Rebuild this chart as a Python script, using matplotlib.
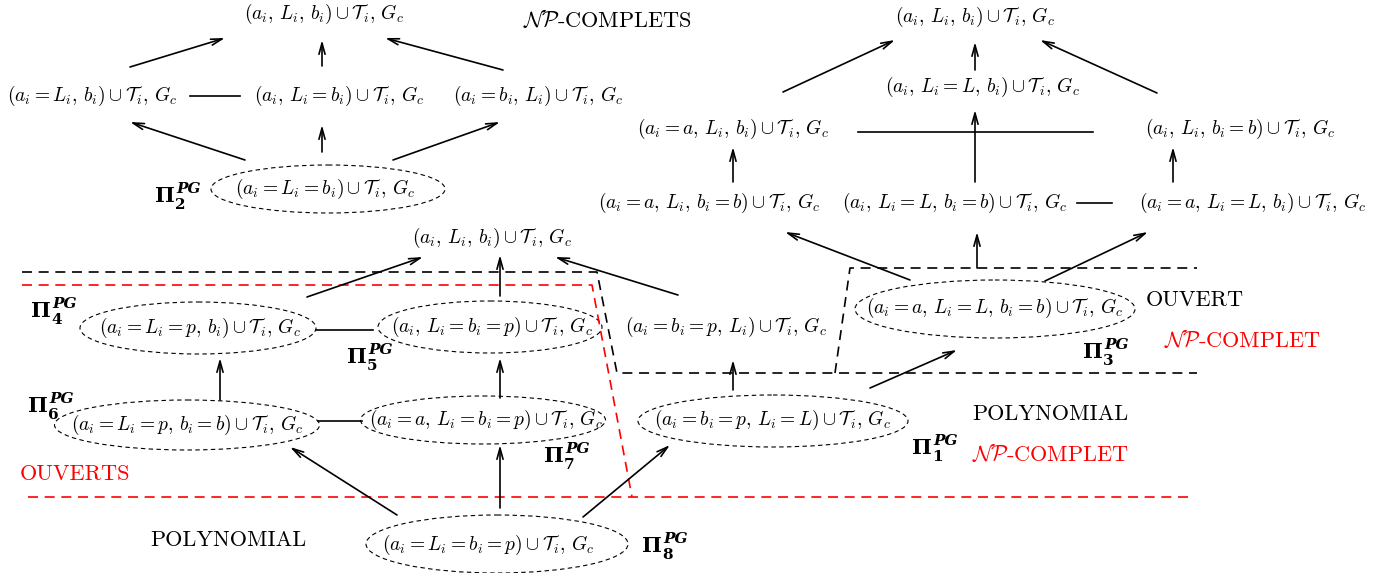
import matplotlib
matplotlib.use("Agg")
import matplotlib.pyplot as plt
from matplotlib.patches import Ellipse

plt.rcParams['mathtext.fontset'] = 'cm'
plt.rcParams['font.family'] = ['cmr10', 'DejaVu Serif']
plt.rcParams['axes.unicode_minus'] = False

T = r'\cup\mathcal{T}_i,\,G_c$'

# nodes of the lattice (label, centre in pixels)
node_labels = [
    r'$(a_i,\,L_i,\,b_i)' + T,
    r'$(a_i=L_i,\,b_i)' + T,
    r'$(a_i,\,L_i=b_i)' + T,
    r'$(a_i=b_i,\,L_i)' + T,
    r'$(a_i=L_i=b_i)' + T,
    r'$(a_i,\,L_i,\,b_i)' + T,
    r'$(a_i,\,L_i=L,\,b_i)' + T,
    r'$(a_i=a,\,L_i,\,b_i)' + T,
    r'$(a_i,\,L_i,\,b_i=b)' + T,
    r'$(a_i=a,\,L_i,\,b_i=b)' + T,
    r'$(a_i,\,L_i=L,\,b_i=b)' + T,
    r'$(a_i=a,\,L_i=L,\,b_i)' + T,
    r'$(a_i,\,L_i,\,b_i)' + T,
    r'$(a_i=L_i=p,\,b_i)' + T,
    r'$(a_i,\,L_i=b_i=p)' + T,
    r'$(a_i=b_i=p,\,L_i)' + T,
    r'$(a_i=a,\,L_i=L,\,b_i=b)' + T,
    r'$(a_i=L_i=p,\,b_i=b)' + T,
    r'$(a_i=a,\,L_i=b_i=p)' + T,
    r'$(a_i=b_i=p,\,L_i=L)' + T,
    r'$(a_i=L_i=b_i=p)' + T,
]
node_x = [324, 92, 339, 538, 325, 975, 983, 733, 1240, 709, 955, 1253,
          492, 200, 492, 726, 995, 187, 486, 773, 488]
node_y = [14, 96, 96, 96, 189, 17, 87, 129, 129, 203, 203, 203,
          238, 328, 327, 327, 308, 425, 420, 420, 545]

# dashed ellipses round the named problems: (cx, cy, w, h)
ellipses = [
    (328, 189, 234, 48),
    (198, 328, 236, 52),
    (490, 327, 224, 52),
    (995, 309, 280, 58),
    (187, 425, 265, 50),
    (483, 420, 245, 48),
    (773, 421, 270, 52),
    (497, 544, 262, 58),
]

# problem names: index and position of the Pi glyph (left, centre)
pi_index = ['2', '4', '5', '3', '6', '7', '1', '8']
pi_x = [155, 31, 347, 1083, 28, 544, 912, 642]
pi_y = [196, 311, 357, 352, 406, 456, 448, 546]

# arrows (start -> end)
arrows = [
    ((130, 67), (225, 38)), ((322, 66), (322, 40)), ((503, 70), (385, 38)),
    ((245, 160), (130, 122)), ((322, 152), (322, 125)), ((393, 160), (500, 122)),
    ((783, 92), (895, 40)), ((975, 70), (975, 42)), ((1157, 93), (1040, 40)),
    ((733, 182), (733, 147)), ((975, 182), (975, 110)), ((1173, 182), (1173, 147)),
    ((307, 297), (423, 257)), ((500, 296), (500, 255)), ((678, 295), (555, 257)),
    ((910, 280), (785, 232)), ((977, 268), (977, 232)), ((1045, 281), (1148, 232)),
    ((220, 400), (220, 358)), ((500, 398), (500, 358)),
    ((733, 390), (733, 360)), ((870, 388), (957, 350)),
    ((397, 515), (290, 447)), ((500, 508), (500, 445)), ((583, 517), (670, 445)),
]

# plain links between nodes
links = [
    ((190, 96), (240, 96)), ((858, 132), (1093, 132)), ((1077, 203), (1112, 203)),
    ((316, 330), (373, 330)), ((318, 421), (362, 421)),
]

# complexity borders
black_border_1 = [(22, 272), (597, 272), (617, 373), (1197, 373)]
black_border_2 = [(835, 373), (850, 268), (1197, 268)]
red_border_1 = [(22, 285), (592, 285), (632, 497)]
red_border_2 = [(28, 497), (1192, 497)]

fig = plt.figure(figsize=(13.79, 5.73), dpi=100)
ax = fig.add_axes([0, 0, 1, 1])
ax.set_xlim(0, 1379)
ax.set_ylim(573, 0)
ax.axis('off')

for lab, x, y in zip(node_labels, node_x, node_y):
    ax.text(x, y, lab, fontsize=14, ha='center', va='center')

for cx, cy, w, h in ellipses:
    ax.add_patch(Ellipse((cx, cy), w, h, fill=False, ec='black', lw=0.8,
                         ls=(0, (4, 3))))

for idx, x, y in zip(pi_index, pi_x, pi_y):
    ax.text(x, y, 'Π', fontsize=15, fontweight='bold', family='DejaVu Serif',
            ha='left', va='center')
    ax.text(x + 21, y - 7, 'PG', fontsize=11, fontweight='bold', fontstyle='italic',
            family='DejaVu Serif', ha='left', va='center')
    ax.text(x + 20, y + 9, idx, fontsize=11, fontweight='bold',
            family='DejaVu Serif', ha='left', va='center')

for (x0, y0), (x1, y1) in arrows:
    ax.annotate('', xy=(x1, y1), xytext=(x0, y0),
                arrowprops=dict(arrowstyle='->,head_length=0.8,head_width=0.22',
                                lw=1.2, color='black', shrinkA=0, shrinkB=0))

for (x0, y0), (x1, y1) in links:
    ax.plot([x0, x1], [y0, y1], color='black', lw=1.2)

for pts, col in [(black_border_1, 'black'), (black_border_2, 'black'),
                 (red_border_1, 'red'), (red_border_2, 'red')]:
    xs, ys = zip(*pts)
    ax.plot(xs, ys, color=col, lw=1.2, ls=(0, (6, 4)))

ax.text(607, 20, r'$\mathcal{NP}$-COMPLETS', fontsize=16, ha='center', va='center')
ax.text(1195, 300, 'OUVERT', fontsize=16, ha='center', va='center')
ax.text(1242, 340, r'$\mathcal{NP}$-COMPLET', fontsize=16, ha='center', va='center', color='red')
ax.text(1050, 414, 'POLYNOMIAL', fontsize=16, ha='center', va='center')
ax.text(1050, 453, r'$\mathcal{NP}$-COMPLET', fontsize=16, ha='center', va='center', color='red')
ax.text(75, 474, 'OUVERTS', fontsize=16, ha='center', va='center', color='red')
ax.text(228, 540, 'POLYNOMIAL', fontsize=16, ha='center', va='center')

fig.savefig('out.png', dpi=100)
